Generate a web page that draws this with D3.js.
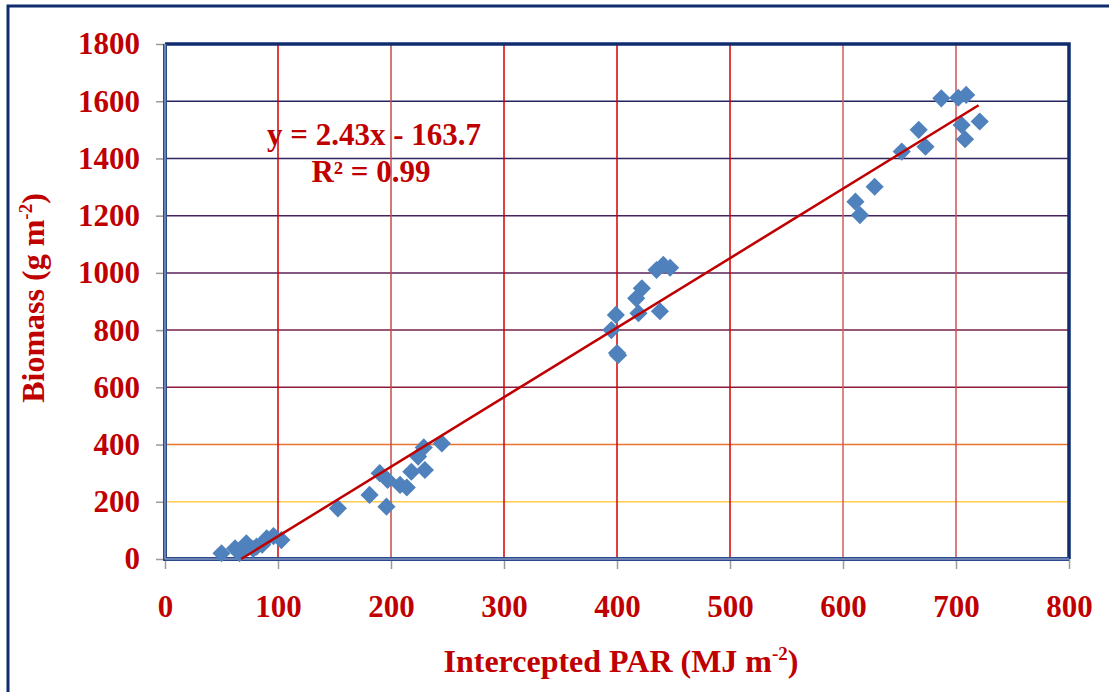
<!DOCTYPE html>
<html>
<head>
<meta charset="utf-8">
<script src="https://cdn.jsdelivr.net/npm/d3@7"></script>
<style>
  body { margin: 0; background: #fff; }
  text { font-family: "Liberation Serif", "Times New Roman", serif; font-weight: bold; fill: #C00000; }
</style>
</head>
<body>
<div id="vis"></div>
<script>
const FRAME_WIDTH = 1109;
const FRAME_HEIGHT = 692;
const MARGINS = {left: 165, right: 40, top: 44, bottom: 133};
const VIS_WIDTH = FRAME_WIDTH - MARGINS.left - MARGINS.right;   // 904
const VIS_HEIGHT = FRAME_HEIGHT - MARGINS.top - MARGINS.bottom; // 515

// intercepted PAR (MJ m-2) and biomass (g m-2)
const parX = [50, 62, 66, 72, 78, 81, 86, 90, 96, 103,
              153, 181, 196, 190, 197, 208, 214, 218, 230, 224, 229, 245,
              395, 399, 400, 401, 417, 419, 422, 438, 435, 441, 447,
              611, 615, 628, 652, 667, 673, 687, 702, 709, 705, 708, 721];
const biomass = [20, 37, 20, 55, 35, 43, 50, 72, 80, 66,
                 177, 224, 183, 300, 276, 259, 250, 305, 311, 358, 390, 404,
                 800, 853, 720, 712, 911, 859, 946, 866, 1010, 1028, 1018,
                 1249, 1202, 1301, 1424, 1500, 1441, 1610, 1612, 1622, 1517, 1467, 1529];

// linear trend shown on the chart
const trendSlope = 2.43;
const trendIntercept = -163.7;
const trendX = [67.4, 720];

const xTicks = [0, 100, 200, 300, 400, 500, 600, 700, 800];
const yTicks = [0, 200, 400, 600, 800, 1000, 1200, 1400, 1600, 1800];
const hGridColors = {200: "#FFCC4D", 400: "#E8742C", 600: "#8E1B3A", 800: "#741F4A",
                     1000: "#5C2157", 1200: "#46235E", 1400: "#2E2460", 1600: "#23245E"};
const vGridColors = {100: "#D00000", 200: "#C84A4A", 300: "#D00000", 400: "#D00000",
                     500: "#D00000", 600: "#D25E5E", 700: "#D05050"};

const NAVY = "#0F2C6E";

const svg = d3.select("#vis")
  .append("svg")
  .attr("width", FRAME_WIDTH)
  .attr("height", FRAME_HEIGHT);

// outer frame (runs off the right and bottom of the picture)
svg.append("rect")
  .attr("x", 8).attr("y", 6)
  .attr("width", 1300).attr("height", 900)
  .attr("fill", "none")
  .attr("stroke", NAVY)
  .attr("stroke-width", 3);

const X_SCALE = d3.scaleLinear().domain([0, 800]).range([0, VIS_WIDTH]);
const Y_SCALE = d3.scaleLinear().domain([0, 1800]).range([VIS_HEIGHT, 0]);

const g = svg.append("g")
  .attr("transform", "translate(" + MARGINS.left + "," + MARGINS.top + ")");

// gridlines
g.selectAll(".hgrid")
  .data(yTicks.filter(d => d > 0 && d < 1800))
  .enter()
  .append("line")
  .attr("x1", 0).attr("x2", VIS_WIDTH)
  .attr("y1", d => Y_SCALE(d)).attr("y2", d => Y_SCALE(d))
  .attr("stroke", d => hGridColors[d])
  .attr("stroke-width", 1.5);

g.selectAll(".vgrid")
  .data(xTicks.filter(d => d > 0 && d < 800))
  .enter()
  .append("line")
  .attr("y1", 0).attr("y2", VIS_HEIGHT)
  .attr("x1", d => X_SCALE(d)).attr("x2", d => X_SCALE(d))
  .attr("stroke", d => vGridColors[d])
  .attr("stroke-width", 1.5);

// axes
const xAxis = g.append("g")
  .attr("transform", "translate(0," + VIS_HEIGHT + ")")
  .call(d3.axisBottom(X_SCALE).tickValues(xTicks).tickFormat(d3.format("d"))
        .tickSize(10).tickPadding(26));

const yAxis = g.append("g")
  .call(d3.axisLeft(Y_SCALE).tickValues(yTicks).tickFormat(d3.format("d"))
        .tickSize(9).tickPadding(16));

[xAxis, yAxis].forEach(ax => {
  ax.select(".domain").remove();
  ax.selectAll(".tick line").attr("stroke", "#9A9A9A").attr("stroke-width", 1.5);
  ax.selectAll(".tick text")
    .attr("fill", "#C00000")
    .style("font-size", "31px")
    .style("font-family", "'Liberation Serif', serif")
    .style("font-weight", "bold");
});

// plot border: top/right plain, left/bottom doubled
g.append("path")
  .attr("d", "M0,0H" + VIS_WIDTH + "V" + VIS_HEIGHT)
  .attr("fill", "none")
  .attr("stroke", NAVY)
  .attr("stroke-width", 3.5);
g.append("path")
  .attr("d", "M0,0V" + VIS_HEIGHT + "H" + VIS_WIDTH)
  .attr("fill", "none")
  .attr("stroke", "#2A4A8C")
  .attr("stroke-width", 4);
g.append("path")
  .attr("d", "M0,0V" + VIS_HEIGHT + "H" + VIS_WIDTH)
  .attr("fill", "none")
  .attr("stroke", "#A9B8D8")
  .attr("stroke-width", 1);

// points
const pts = parX.map((x, i) => ({x: x, y: biomass[i]}));
g.selectAll(".pt")
  .data(pts)
  .enter()
  .append("path")
  .attr("d", d3.symbol(d3.symbolSquare, 165))
  .attr("transform", d => "translate(" + X_SCALE(d.x) + "," + Y_SCALE(d.y) + ") rotate(45)")
  .attr("fill", "#4F81BD");

// trend line
g.append("path")
  .datum(trendX.map(x => ({x: x, y: trendSlope * x + trendIntercept})))
  .attr("d", d3.line().x(d => X_SCALE(d.x)).y(d => Y_SCALE(d.y)))
  .attr("fill", "none")
  .attr("stroke", "#C00000")
  .attr("stroke-width", 2.5);

// equation
svg.append("text")
  .attr("x", 374).attr("y", 145)
  .attr("text-anchor", "middle")
  .style("font-size", "31px")
  .text("y = 2.43x - 163.7");
svg.append("text")
  .attr("x", 371).attr("y", 182)
  .attr("text-anchor", "middle")
  .style("font-size", "31px")
  .text("R² = 0.99");

// axis titles
const xt = svg.append("text")
  .attr("x", 621).attr("y", 672)
  .attr("text-anchor", "middle")
  .style("font-size", "32px");
xt.append("tspan").text("Intercepted PAR (MJ m");
xt.append("tspan").attr("dy", -12).style("font-size", "19px").text("-2");
xt.append("tspan").attr("dy", 12).text(")");

const yt = svg.append("text")
  .attr("transform", "translate(44,298) rotate(-90)")
  .attr("text-anchor", "middle")
  .style("font-size", "32px");
yt.append("tspan").text("Biomass (g m");
yt.append("tspan").attr("dy", -12).style("font-size", "19px").text("-2");
yt.append("tspan").attr("dy", 12).text(")");
</script>
</body>
</html>
